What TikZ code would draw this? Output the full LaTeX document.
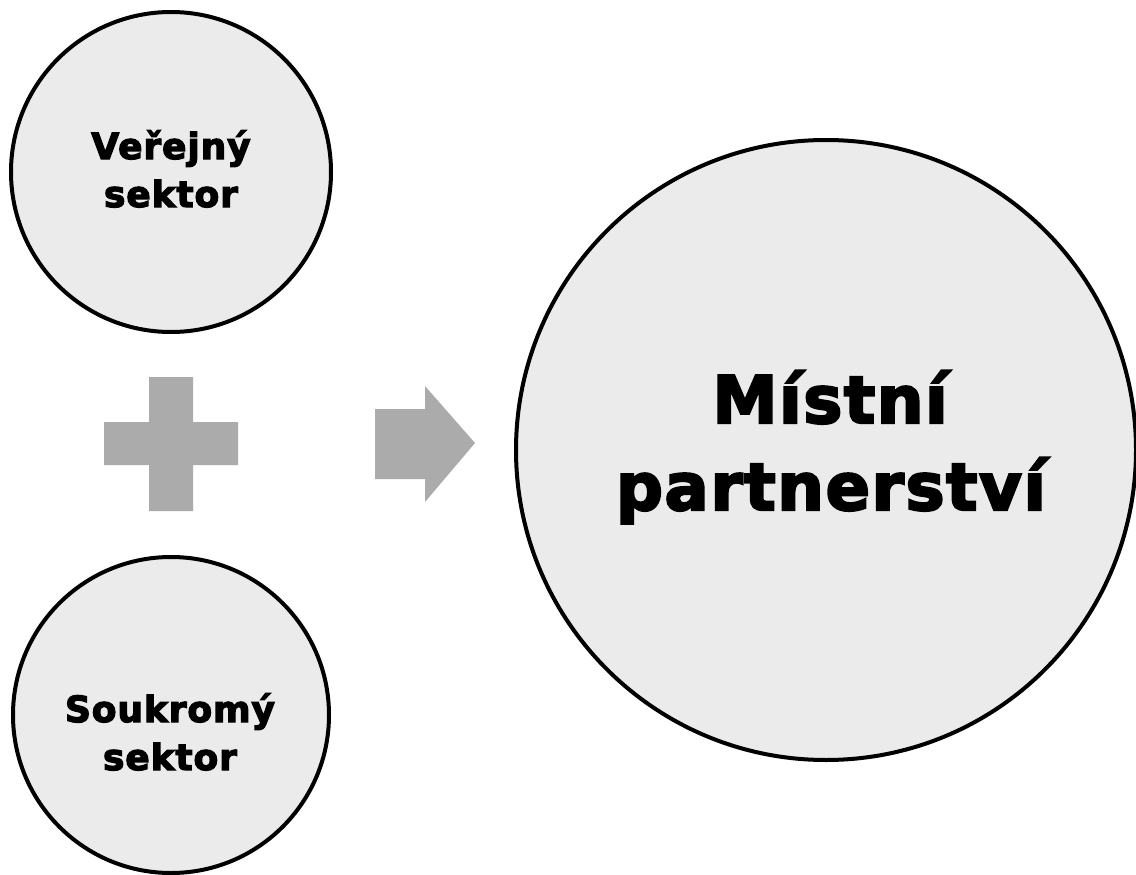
\documentclass[tikz,border=0pt]{standalone}
\usepackage{fontspec}
\setmainfont{DejaVu Sans}[UprightFont=* Bold, BoldFont=* Bold, FakeBold=3.5, LetterSpace=2.5]
\definecolor{circfill}{HTML}{EBEBEB}
\definecolor{shapegray}{HTML}{ABABAB}
\begin{document}
\begin{tikzpicture}[x=1pt,y=-1pt,
  bubble/.style={circle, draw=black, line width=4pt, fill=circfill, inner sep=0pt},
  smalltext/.style={anchor=base, inner sep=0pt, text=black, font=\fontsize{36}{44}\selectfont},
  bigtext/.style={anchor=base, inner sep=0pt, text=black, font=\fontsize{65.5}{80}\selectfont},
  grayshape/.style={fill=shapegray, draw=none}]
\useasboundingbox (0,0) rectangle (1136,875);
\node[bubble, minimum size=320pt] (pub) at (171,172) {};
\node[bubble, minimum size=316pt] (priv) at (171,715) {};
\node[bubble, minimum size=620pt] (mp) at (826,450) {};
\node[smalltext] (pub1) at (171,159) {Veřejný};
\node[smalltext] (pub2) at (171,207) {sektor};
\node[smalltext] (priv1) at (170,722) {Soukromý};
\node[smalltext] (priv2) at (170,770) {sektor};
\node[bigtext] (mp1) at (830,423) {Místní};
\node[bigtext] (mp2) at (831,510) {partnerství};
\path[grayshape] (149,377) -- (193,377) -- (193,422) -- (238,422) -- (238,465) -- (193,465) -- (193,511) -- (149,511) -- (149,465) -- (104,465) -- (104,422) -- (149,422) -- cycle;
\path[grayshape] (375,409) -- (425,409) -- (425,386) -- (475,443) -- (425,502) -- (425,479) -- (375,479) -- cycle;
\end{tikzpicture}
\end{document}
